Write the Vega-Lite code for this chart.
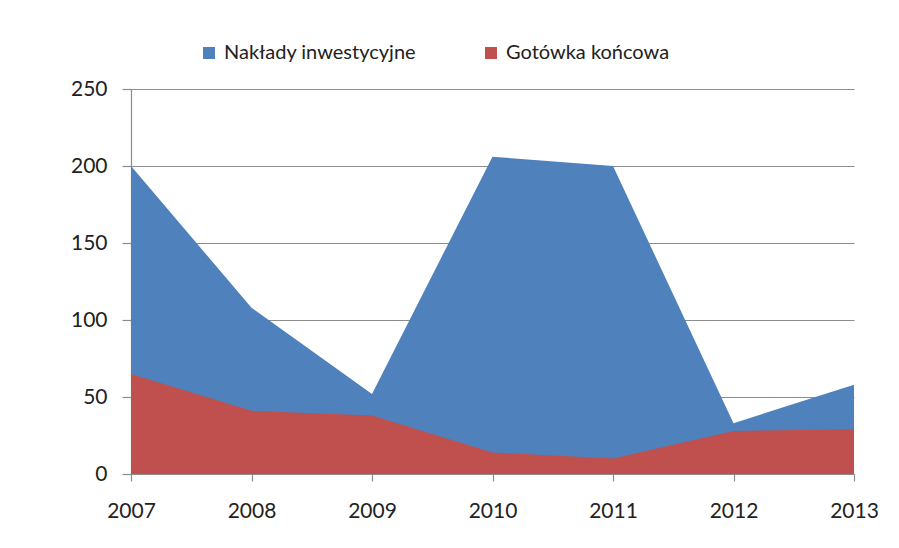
{
  "$schema": "https://vega.github.io/schema/vega-lite/v6.json",
  "width": 723,
  "height": 385,
  "autosize": {"type": "none"},
  "padding": {"left": 131, "top": 89, "right": 45, "bottom": 74},
  "background": "white",
  "config": {
    "font": "Lato",
    "view": {"stroke": null},
    "axis": {"labelFont": "Lato", "labelFontSize": 21, "labelColor": "#222222", "domainColor": "#8c8c8c", "tickColor": "#8c8c8c", "gridColor": "#8c8c8c", "domainWidth": 1.2, "tickWidth": 1.2, "gridWidth": 1.2}
  },
  "data": {
    "values": [
      {"year": 2007, "series": "Nakłady inwestycyjne", "value": 200},
      {"year": 2008, "series": "Nakłady inwestycyjne", "value": 108},
      {"year": 2009, "series": "Nakłady inwestycyjne", "value": 52},
      {"year": 2010, "series": "Nakłady inwestycyjne", "value": 206},
      {"year": 2011, "series": "Nakłady inwestycyjne", "value": 200},
      {"year": 2012, "series": "Nakłady inwestycyjne", "value": 33},
      {"year": 2013, "series": "Nakłady inwestycyjne", "value": 58},
      {"year": 2007, "series": "Gotówka końcowa", "value": 65},
      {"year": 2008, "series": "Gotówka końcowa", "value": 41},
      {"year": 2009, "series": "Gotówka końcowa", "value": 38},
      {"year": 2010, "series": "Gotówka końcowa", "value": 14},
      {"year": 2011, "series": "Gotówka końcowa", "value": 10},
      {"year": 2012, "series": "Gotówka końcowa", "value": 28},
      {"year": 2013, "series": "Gotówka końcowa", "value": 29}
    ]
  },
  "encoding": {
    "x": {
      "field": "year",
      "type": "quantitative",
      "scale": {"domain": [2007, 2013], "nice": false, "zero": false},
      "axis": {"values": [2007, 2008, 2009, 2010, 2011, 2012, 2013], "format": "d", "title": null, "grid": false, "tickSize": 7, "labelPadding": 19, "labelFlush": false, "labelOverlap": false}
    },
    "y": {
      "field": "value",
      "type": "quantitative",
      "stack": null,
      "scale": {"domain": [0, 250], "nice": false},
      "axis": {"values": [0, 50, 100, 150, 200, 250], "title": null, "grid": true, "tickSize": 9, "labelPadding": 15}
    },
    "color": {
      "field": "series",
      "type": "nominal",
      "scale": {"domain": ["Nakłady inwestycyjne", "Gotówka końcowa"], "range": ["#4F81BD", "#C0504D"]},
      "legend": {
        "title": null,
        "orient": "none",
        "direction": "horizontal",
        "legendX": 68,
        "legendY": -46,
        "symbolType": "square",
        "symbolSize": 144,
        "symbolStrokeWidth": 0,
        "symbolOpacity": 1,
        "labelFont": "Lato",
        "labelFontSize": 20,
        "labelColor": "#222222",
        "labelOffset": 5,
        "labelLimit": 0,
        "columnPadding": 64
      }
    }
  },
  "layer": [
    {
      "transform": [{"filter": "datum.series === 'Nakłady inwestycyjne'"}],
      "mark": {"type": "area", "opacity": 1}
    },
    {
      "transform": [{"filter": "datum.series === 'Gotówka końcowa'"}],
      "mark": {"type": "area", "opacity": 1}
    }
  ]
}
